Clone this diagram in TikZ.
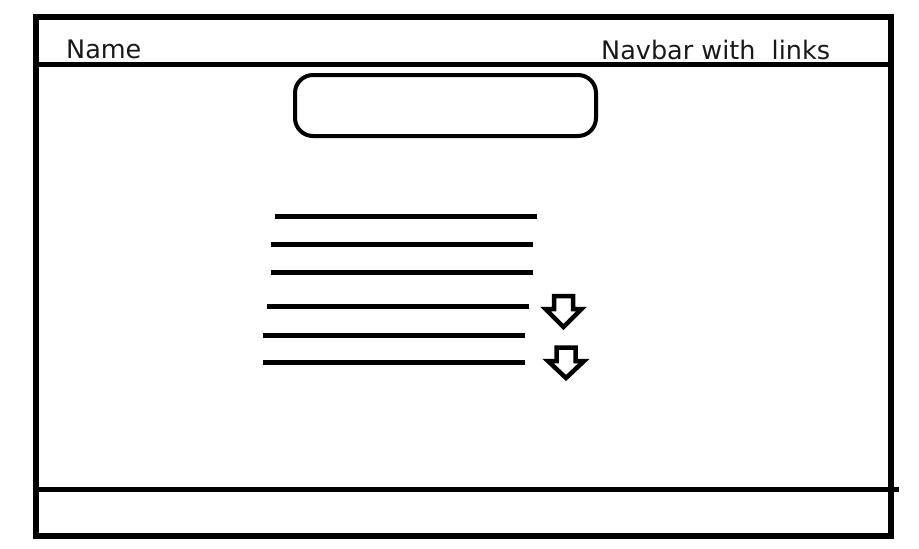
\documentclass[tikz,border=0pt]{standalone}
\usepackage{fontspec}
\setmainfont{DejaVu Sans}
\usetikzlibrary{positioning,calc}
\tikzset{
  frame/.style={draw=black, line width=6pt},
  rule/.style={draw=black, line width=5pt},
  txt/.style={inner sep=0pt, anchor=base west, font=\fontsize{25.5}{30}\selectfont, text=black!90},
  pill/.style={rounded corners=18pt, draw=black, line width=4pt, minimum width=301pt, minimum height=61pt, inner sep=0pt},
  textline/.style={draw=black, line width=5pt},
  downarr/.style={draw=black, line width=4.5pt, line join=miter},
}
\begin{document}
\begin{tikzpicture}[x=1pt, y=-1pt]
    \useasboundingbox (0,0) rectangle (919,549);
    % page frame with header and footer
    \draw[frame] (35.5,17) rectangle (891,536);
    \draw[rule] (35.5,64.5) -- (891,64.5);
    \draw[rule] (35.5,489) -- (899,489);
    \node[txt] (name) at (66,58) {Name};
    \node[txt] (navlinks) at (601,59) {Navbar with\ \ links};
    % box under the header
    \node[pill] (searchbox) at (445.5,105.5) {};
    % lines of text
    \foreach \xa/\yy/\xb in {275/216.5/537, 271/244.5/533, 271/272.5/533, 267/306.5/529, 263/335/525, 263/362.5/525}
      \draw[textline] (\xa,\yy) -- (\xb,\yy);
    % scroll arrows
    \foreach \cx/\top/\sh/\tip in {563.5/296/309/327, 566/347.5/361/378}
      \draw[downarr] (\cx-9.5,\top) -- (\cx+9.5,\top) -- (\cx+9.5,\sh) -- (\cx+18,\sh)
        -- (\cx,\tip) -- (\cx-18,\sh) -- (\cx-9.5,\sh) -- cycle;
\end{tikzpicture}
\end{document}
